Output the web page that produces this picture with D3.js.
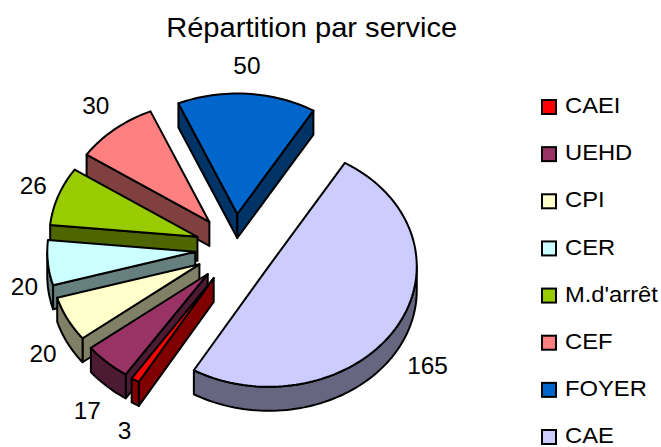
<!doctype html>
<html>
<head>
    <meta charset="UTF-8">
    <title>Répartition par service</title>
    <script src="https://d3js.org/d3.v7.min.js"></script>
    <style>
        html, body { margin: 0; padding: 0; background: #fff; }
        svg { display: block; }
        text { font-family: "Liberation Sans", Arial, sans-serif; fill: #000; }
    </style>
</head>
<body>
<svg id="chart" width="661" height="447"></svg>
<script>
// data
var services = ["CAEI", "UEHD", "CPI", "CER", "M.d'arrêt", "CEF", "FOYER", "CAE"];
var effectifs = [3, 17, 20, 20, 26, 30, 50, 165];
var couleurs = ["#FF0000", "#993366", "#FFFFCC", "#CCFFFF", "#99CC00", "#FF8080", "#0066CC", "#CCCCFF"];
var titre = "Répartition par service";

// layout of the tilted pie
var cx = 234.7, cy = 248.6;     // centre before exploding
var rx = 148, ry = 120.5;       // top face ellipse
var exX = 39.6, exY = 34.7;     // explosion
var depth = 24;
var start = 210.4 * Math.PI / 180;

var svg = d3.select("#chart");
var color = d3.scaleOrdinal().domain(services).range(couleurs);
var legendY = d3.scalePoint().domain(services).range([107, 437]);

var pie = d3.pie().sort(null).value(function(d, i) { return effectifs[i]; })
    .startAngle(start).endAngle(start + 2 * Math.PI);
var slices = pie(services);

var line = d3.line().x(function(p) { return p[0]; }).y(function(p) { return p[1]; });

function half(c) {
    var k = d3.rgb(c);
    return d3.rgb(k.r / 2, k.g / 2, k.b / 2).formatHex();
}
function apex(d) {
    var mid = (d.startAngle + d.endAngle) / 2;
    return [cx + exX * Math.sin(mid), cy - exY * Math.cos(mid)];
}
function rimPoint(d, a, dz) {
    var o = apex(d);
    return [o[0] + rx * Math.sin(a), o[1] - ry * Math.cos(a) + (dz || 0)];
}
function arcPoints(d, a0, a1, dz) {
    var n = Math.max(1, Math.ceil((a1 - a0) / 0.03));
    return d3.range(n + 1).map(function(i) { return rimPoint(d, a0 + (a1 - a0) * i / n, dz); });
}
function drawShape(points, fill) {
    svg.append("path")
        .attr("d", line(points) + "Z")
        .attr("fill", fill)
        .attr("stroke", "#000")
        .attr("stroke-width", 2)
        .attr("stroke-linejoin", "round");
}

// back to front
var order = ["FOYER", "CAE", "CEF", "M.d'arrêt", "CER", "CPI", "UEHD", "CAEI"];
order.forEach(function(name) {
    var d = slices[services.indexOf(name)];
    var a0 = d.startAngle, a1 = d.endAngle;
    var o = apex(d);
    var oLow = [o[0], o[1] + depth];
    var dark = half(color(name));

    // radial walls facing the viewer
    if (Math.sin(a0) < 0) {
        drawShape([o, rimPoint(d, a0), rimPoint(d, a0, depth), oLow], dark);
    }
    if (Math.sin(a1) > 0) {
        drawShape([o, rimPoint(d, a1), rimPoint(d, a1, depth), oLow], dark);
    }
    // outer wall, the part between 90 and 270 degrees (angles can run past a full turn)
    [0, 2 * Math.PI].forEach(function(turn) {
        var lo = Math.max(a0, Math.PI / 2 + turn), hi = Math.min(a1, 3 * Math.PI / 2 + turn);
        if (hi > lo) {
            drawShape(arcPoints(d, lo, hi, 0).concat(arcPoints(d, lo, hi, depth).reverse()), dark);
        }
    });
    // top face
    drawShape([o].concat(arcPoints(d, a0, a1, 0)), color(name));
});

// value labels
var labelShift = {"CAEI": [5, 6], "UEHD": [0.5, 7], "CPI": [2, 0], "CER": [6, -2], "M.d'arrêt": [3, -2], "CEF": [0, -5], "FOYER": [-2, -4], "CAE": [6, 1]};
slices.forEach(function(d) {
    var mid = (d.startAngle + d.endAngle) / 2;
    var o = apex(d);
    var s = labelShift[d.data];
    var low = Math.cos(mid) < 0 ? depth : 0;
    svg.append("text")
        .attr("x", o[0] + 1.2 * rx * Math.sin(mid) + s[0])
        .attr("y", o[1] - 1.2 * ry * Math.cos(mid) + low + s[1])
        .attr("text-anchor", "middle")
        .attr("dominant-baseline", "central")
        .attr("font-size", 24.4)
        .text(effectifs[d.index]);
});

// legend, the original text is a little wider than the font
services.forEach(function(name) {
    var y = legendY(name);
    svg.append("rect")
        .attr("x", 542).attr("y", y - 7)
        .attr("width", 14).attr("height", 14)
        .attr("fill", color(name))
        .attr("stroke", "#000").attr("stroke-width", 2);
    svg.append("text")
        .attr("transform", "translate(565," + (y - 1.5) + ") scale(1.08,1)")
        .attr("dominant-baseline", "central")
        .attr("font-size", 22)
        .text(name);
});

svg.append("text")
    .attr("transform", "translate(311.7,36.7) scale(1.04,1)")
    .attr("text-anchor", "middle")
    .attr("font-size", 28)
    .text(titre);
</script>
</body>
</html>
